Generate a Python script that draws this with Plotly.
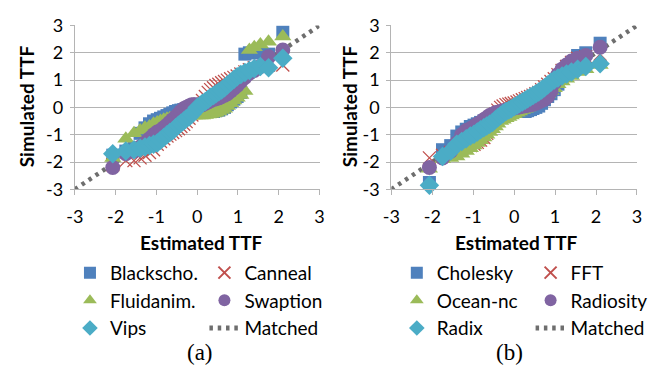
import plotly.graph_objects as go

W, H = 654, 377

# Estimated TTF (theoretical quantiles), shared by all series
estimated = [-2.07, -1.75, -1.55, -1.40, -1.28, -1.17, -1.07, -0.98, -0.90, -0.82,
             -0.74, -0.67, -0.60, -0.53, -0.46, -0.40, -0.33, -0.27, -0.20, -0.13,
             -0.07, 0.00, 0.07, 0.13, 0.20, 0.27, 0.33, 0.40, 0.46, 0.53,
             0.60, 0.67, 0.74, 0.82, 0.90, 0.98, 1.07, 1.17, 1.28, 1.40,
             1.55, 1.75, 2.10]

# ---- (a) PARSEC ----
blackscho = [-1.75, -1.60, -1.50, -0.95, -0.75, -0.60, -0.50, -0.45, -0.40, -0.35,
             -0.30, -0.25, -0.20, -0.15, -0.12, -0.10, -0.08, -0.05, -0.05, -0.10,
             -0.12, -0.15, -0.15, -0.15, -0.15, -0.15, -0.15, -0.15, -0.12, -0.10,
             -0.05, 0.00, 0.10, 0.20, 0.30, 0.40, 0.55, 1.95, 2.00, 2.00,
             2.00, 1.95, 2.75]
canneal = [-2.10, -1.95, -1.95, -1.85, -1.75, -1.65, -1.55, -1.35, -1.25, -1.15,
           -1.05, -0.98, -0.92, -0.85, -0.78, -0.70, -0.62, -0.52, -0.40, -0.28,
           -0.15, 0.00, 0.12, 0.25, 0.40, 0.55, 0.65, 0.72, 0.80, 0.85,
           0.90, 0.95, 1.00, 1.05, 1.10, 1.15, 1.22, 1.30, 1.38, 1.45,
           1.50, 1.55, 1.55]
fluidanim = [-1.85, -1.15, -0.95, -0.85, -0.75, -0.70, -0.60, -0.55, -0.50, -0.45,
             -0.42, -0.40, -0.38, -0.35, -0.33, -0.32, -0.30, -0.30, -0.30, -0.30,
             -0.30, -0.30, -0.30, -0.30, -0.28, -0.26, -0.24, -0.22, -0.20, -0.15,
             -0.10, -0.05, 0.05, 0.15, 0.25, 0.35, 0.45, 0.60, 2.10, 2.20,
             2.30, 2.40, 2.60]
swaption = [-2.20, -1.70, -1.60, -1.45, -1.30, -1.15, -1.00, -0.90, -0.85, -0.75,
            -0.65, -0.55, -0.45, -0.35, -0.25, -0.15, -0.05, 0.00, 0.05, 0.10,
            0.10, 0.10, 0.10, 0.10, 0.15, 0.20, 0.25, 0.30, 0.32, 0.35,
            0.40, 0.45, 0.50, 0.60, 0.70, 0.80, 0.95, 1.10, 1.25, 1.35,
            1.50, 1.85, 2.10]
vips = [-1.70, -1.60, -1.55, -1.50, -1.45, -1.40, -1.35, -1.30, -1.20, -1.10,
        -1.00, -0.92, -0.85, -0.75, -0.65, -0.58, -0.50, -0.42, -0.35, -0.25,
        -0.15, 0.00, 0.08, 0.15, 0.22, 0.30, 0.37, 0.44, 0.50, 0.57,
        0.64, 0.72, 0.82, 0.92, 1.02, 1.12, 1.20, 1.28, 1.35, 1.42,
        1.50, 1.45, 1.80]

# ---- (b) SPLASH-2 ----
cholesky = [-2.75, -1.55, -1.40, -1.05, -0.90, -0.80, -0.70, -0.65, -0.60, -0.55,
            -0.50, -0.45, -0.40, -0.35, -0.30, -0.25, -0.22, -0.20, -0.18, -0.16,
            -0.15, -0.15, -0.15, -0.15, -0.15, -0.15, -0.12, -0.08, -0.04, 0.00,
            0.05, 0.15, 0.28, 0.40, 0.50, 0.65, 0.85, 1.10, 1.35, 1.60,
            1.90, 2.00, 2.35]
fft = [-1.85, -1.75, -1.65, -1.55, -1.50, -1.45, -1.40, -1.35, -1.28, -1.20,
       -1.10, -0.95, -0.75, -0.50, -0.25, -0.10, 0.00, 0.05, 0.10, 0.12,
       0.14, 0.16, 0.20, 0.24, 0.28, 0.32, 0.36, 0.40, 0.45, 0.50,
       0.55, 0.65, 0.75, 0.85, 0.95, 1.05, 1.20, 1.35, 1.50, 1.65,
       1.80, 1.85, 1.95]
ocean_nc = [-2.25, -1.90, -1.85, -1.80, -1.70, -1.60, -1.50, -1.40, -1.30, -1.20,
            -1.10, -1.00, -0.90, -0.80, -0.70, -0.60, -0.50, -0.45, -0.40, -0.35,
            -0.30, -0.25, -0.20, -0.15, -0.10, -0.05, 0.00, 0.05, 0.10, 0.15,
            0.20, 0.30, 0.40, 0.50, 0.60, 0.70, 0.85, 0.95, 1.05, 1.15,
            1.30, 1.40, 1.55]
radiosity = [-2.20, -1.85, -1.60, -1.30, -1.00, -0.85, -0.78, -0.70, -0.62, -0.55,
             -0.45, -0.38, -0.30, -0.25, -0.20, -0.18, -0.15, -0.12, -0.10, -0.08,
             -0.05, -0.02, 0.00, 0.02, 0.04, 0.06, 0.08, 0.10, 0.12, 0.15,
             0.20, 0.25, 0.30, 0.40, 0.60, 0.90, 1.20, 1.40, 1.55, 1.70,
             1.80, 1.90, 2.20]
radix = [-2.85, -1.80, -1.60, -1.35, -1.25, -1.15, -1.05, -0.98, -0.90, -0.82,
         -0.75, -0.68, -0.62, -0.55, -0.45, -0.38, -0.30, -0.22, -0.15, -0.10,
         -0.05, 0.02, 0.08, 0.14, 0.20, 0.26, 0.32, 0.38, 0.44, 0.50,
         0.56, 0.64, 0.72, 0.82, 0.92, 1.00, 1.08, 1.15, 1.22, 1.30,
         1.40, 1.50, 1.60]

matched_x = [-3, 3]
matched_y = [-3, 3]
axis_ticks = [-3, -2, -1, 0, 1, 2, 3]
axis_ticktext = ["-3", "-2", "-1", "0", "1", "2", "3"]

BLUE, RED, GREEN, PURPLE, CYAN = "#4F81BD", "#C0504D", "#9BBB59", "#8064A2", "#4BACC6"
GRAY_DOT = "#6E6E6E"
FONT = "Lato"

STYLES = [
    dict(symbol="square", size=13, color=BLUE),
    dict(symbol="x-thin-open", size=13, color=RED),
    dict(symbol="triangle-up", size=15, color=GREEN),
    dict(symbol="circle", size=15, color=PURPLE),
    dict(symbol="diamond", size=15, color=CYAN),
]

fig = go.Figure()


def add_panel(xa, ya, names, series, legends):
    # matched line underneath the markers
    fig.add_trace(go.Scatter(
        x=matched_x, y=matched_y, mode="lines", name="Matched",
        line=dict(color=GRAY_DOT, width=4.5, dash="3.5px,4.8px"),
        xaxis=xa, yaxis=ya, legend=legends[1], legendrank=2000,
        hoverinfo="skip", cliponaxis=True))
    for i, (nm, ys) in enumerate(zip(names, series)):
        st = STYLES[i]
        mk = dict(symbol=st["symbol"], size=st["size"], color=st["color"])
        if "open" in st["symbol"]:
            mk["line"] = dict(color=st["color"], width=1.3)
        else:
            mk["line"] = dict(width=0)
        fig.add_trace(go.Scatter(
            x=estimated, y=ys, mode="markers", name=nm, marker=mk,
            xaxis=xa, yaxis=ya, legend=legends[0] if i % 2 == 0 else legends[1],
            cliponaxis=False))


add_panel("x", "y", ["Blackscho.", "Canneal", "Fluidanim.", "Swaption", "Vips"],
          [blackscho, canneal, fluidanim, swaption, vips], ["legend", "legend2"])
add_panel("x2", "y2", ["Cholesky", "FFT", "Ocean-nc", "Radiosity", "Radix"],
          [cholesky, fft, ocean_nc, radiosity, radix], ["legend3", "legend4"])


def px(v):
    return v / W


def py(v):
    return 1 - v / H


GRID = "#B4B4B4"
xa_common = dict(range=[-3, 3], tickvals=axis_ticks, ticktext=axis_ticktext,
                 showgrid=False, zeroline=False,
                 showline=True, linecolor=GRID, linewidth=1, ticks="outside",
                 ticklen=5, tickcolor=GRID, tickwidth=1,
                 tickfont=dict(family=FONT, size=18, color="#000"),
                 ticklabelstandoff=6, fixedrange=True)
ya_common = dict(range=[-3, 3], tickvals=axis_ticks, ticktext=axis_ticktext,
                 showgrid=True, gridcolor=GRID,
                 gridwidth=1, zeroline=False, showline=True, linecolor=GRID,
                 linewidth=1, ticks="outside", ticklen=4, tickcolor=GRID,
                 tickfont=dict(family=FONT, size=18, color="#000"),
                 ticklabelstandoff=3, fixedrange=True)

ydom = [py(188.3), py(14.3)]
fig.update_layout(
    width=W, height=H, margin=dict(l=0, r=0, t=0, b=0),
    paper_bgcolor="white", plot_bgcolor="white",
    font=dict(family=FONT, size=18, color="#000"),
    xaxis=dict(domain=[px(67.3), px(317.3)], anchor="y", **xa_common),
    yaxis=dict(domain=ydom, anchor="x", **ya_common),
    xaxis2=dict(domain=[px(390.7), px(641.7)], anchor="y2", **xa_common),
    yaxis2=dict(domain=ydom, anchor="x2", **ya_common),
    showlegend=True,
)

leg_common = dict(orientation="v", xanchor="left", yanchor="top",
                  bgcolor="rgba(0,0,0,0)", borderwidth=0,
                  font=dict(family=FONT, size=19, color="#000"),
                  itemsizing="constant", tracegroupgap=0, itemclick=False,
                  itemdoubleclick=False)
leg_top = py(273.3 - 16.5)
fig.update_layout(
    legend=dict(x=px(89.3 - 27), y=leg_top, **leg_common),
    legend2=dict(x=px(226.7 - 27), y=leg_top, **leg_common),
    legend3=dict(x=px(423.3 - 27), y=leg_top, **leg_common),
    legend4=dict(x=px(560 - 27), y=leg_top, **leg_common),
)

ann = []
for cx in (197, 518.5):
    ann.append(dict(text="<b>Estimated TTF</b>", x=px(cx), y=py(245), xref="paper",
                    yref="paper", showarrow=False, xanchor="center", yanchor="middle",
                    font=dict(family=FONT, size=19, color="#000")))
for cx in (17.5, 347.5):
    ann.append(dict(text="<b>Simulated TTF</b>", x=px(cx), y=py(100), xref="paper",
                    yref="paper", showarrow=False, xanchor="center", yanchor="middle",
                    textangle=-90, font=dict(family=FONT, size=19, color="#000")))
for cx, lab in ((195, "(a)"), (511.7, "(b)")):
    ann.append(dict(text=lab, x=px(cx), y=py(361.7), xref="paper", yref="paper",
                    showarrow=False, xanchor="center", yanchor="middle",
                    font=dict(family="Liberation Serif", size=23, color="#000")))
fig.update_layout(annotations=ann)

fig.write_html("out.html", config={"displayModeBar": False})
